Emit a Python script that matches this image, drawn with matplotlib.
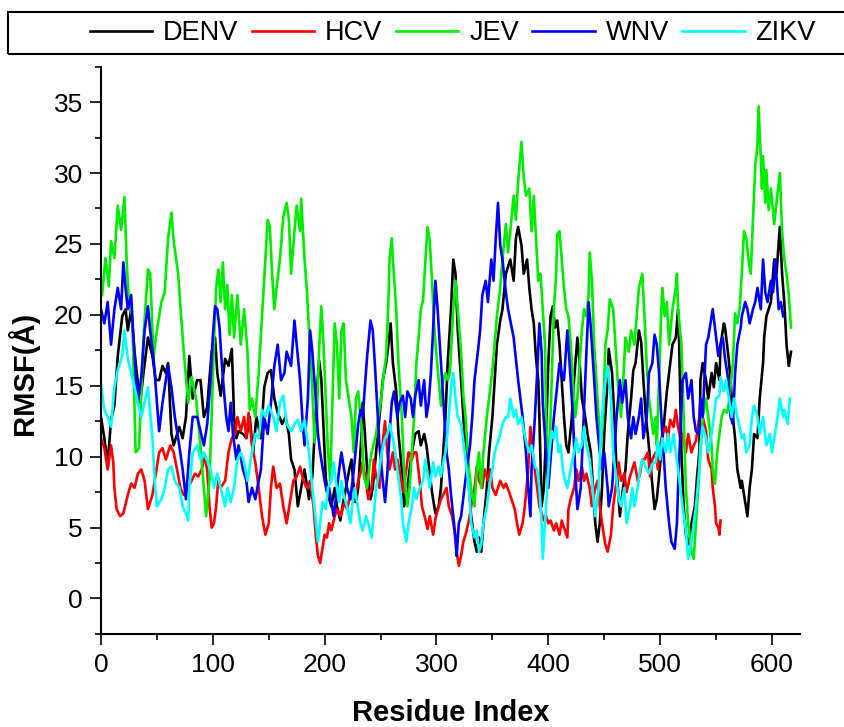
import matplotlib
matplotlib.use('Agg')
import matplotlib.pyplot as plt
from matplotlib.patches import Rectangle
from matplotlib.ticker import MultipleLocator

# %% data (residue index, RMSF in Angstrom)

denv_res = [0, 3, 6, 9, 12, 15, 19, 22, 24, 27, 30, 32, 35, 38, 42, 46, 49, 52, 55, 58, 60, 63, 65, 70, 73, 76, 79, 82, 86, 89,
            92, 95, 97, 99, 102, 104, 107, 111, 114, 117, 119, 121, 123, 127, 130, 133, 136, 139, 143, 146, 149, 152, 155, 158, 162, 165, 168, 170, 173, 176,
            179, 182, 186, 189, 191, 193, 195, 197, 199, 201, 203, 206, 209, 211, 214, 216, 219, 222, 224, 226, 228, 230, 233, 234, 236, 238, 241, 243, 246, 249,
            252, 255, 257, 259, 261, 264, 266, 269, 271, 274, 276, 278, 281, 284, 286, 289, 291, 293, 296, 299, 302, 304, 306, 308, 310, 313, 315, 317, 319, 322,
            324, 326, 329, 331, 334, 336, 338, 340, 342, 345, 347, 350, 352, 354, 357, 359, 362, 364, 366, 369, 371, 373, 376, 378, 381, 383, 385, 387, 389, 391,
            392, 394, 396, 398, 400, 402, 404, 406, 408, 410, 412, 414, 416, 418, 421, 423, 426, 428, 430, 433, 435, 438, 440, 442, 444, 446, 448, 450, 453, 454,
            457, 459, 461, 464, 466, 469, 471, 474, 476, 478, 481, 483, 485, 487, 489, 491, 493, 495, 497, 499, 501, 504, 506, 508, 511, 514, 516, 517, 518, 519,
            521, 523, 526, 528, 531, 533, 535, 536, 538, 541, 543, 546, 548, 550, 553, 554, 557, 558, 561, 563, 565, 567, 569, 572, 573, 576, 578, 580, 582, 584,
            587, 589, 592, 593, 595, 597, 599, 602, 604, 607, 609, 611, 613, 615, 617]
denv_rmsf = [12.8, 11.3, 9.5, 12.6, 13.6, 17.1, 19.9, 20.4, 18.9, 20.4, 17.4, 15.9, 13.8, 15.9, 18.4, 17.1, 15.4, 15.4, 16.4, 15.9, 16.6, 11.6, 10.8, 12.1, 11.3, 12.8, 17.1, 14.1, 15.4, 15.4,
             12.8, 13.5, 15.5, 17.4, 18.4, 15.9, 14.3, 16.9, 16.4, 17.6, 12.8, 11.3, 11.8, 11.6, 11.3, 12.8, 10.3, 12.8, 11.3, 14.9, 15.9, 16.1, 14.1, 13.1, 12.3, 12.8, 11.6, 9.8, 9.1, 6.5,
             7.8, 9.1, 7.0, 8.6, 11.5, 14.5, 16.8, 15.5, 12.0, 8.5, 7.3, 6.5, 7.8, 6.5, 5.5, 6.5, 7.8, 9.1, 9.8, 7.8, 6.8, 7.8, 11.6, 13.8, 11.6, 9.1, 7.0, 7.8, 10.3, 12.8,
             15.4, 16.6, 17.9, 19.4, 16.6, 14.6, 11.6, 9.1, 6.5, 7.8, 9.1, 10.3, 11.6, 11.8, 10.8, 11.6, 10.8, 9.5, 7.5, 6.0, 6.5, 7.8, 10.3, 12.8, 16.6, 20.4, 23.9, 22.9, 18.9, 15.4,
             12.8, 10.3, 7.8, 5.8, 4.0, 3.3, 4.3, 3.3, 5.3, 7.8, 10.3, 12.8, 15.4, 17.9, 19.6, 20.4, 22.9, 23.4, 23.9, 22.4, 25.4, 26.2, 24.9, 22.9, 23.9, 21.9, 20.4, 19.4, 16.9, 15.4,
             12.8, 6.5, 7.8, 11.6, 16.6, 19.9, 20.6, 19.1, 19.6, 17.9, 15.4, 12.8, 10.8, 10.3, 12.8, 15.4, 18.4, 16.6, 14.1, 12.8, 11.6, 10.3, 7.8, 5.3, 4.0, 5.3, 7.8, 11.6, 15.4, 17.6,
             15.9, 12.8, 9.1, 5.8, 7.3, 9.1, 11.6, 14.1, 16.1, 16.6, 18.9, 18.1, 15.4, 13.0, 11.5, 9.8, 8.0, 6.3, 7.0, 8.6, 10.3, 12.8, 14.6, 15.9, 17.9, 18.4, 20.4, 17.9, 14.1, 10.3,
             6.5, 4.5, 3.8, 5.3, 6.5, 8.6, 10.3, 15.4, 16.6, 15.4, 14.1, 15.9, 14.9, 16.6, 15.4, 17.9, 19.4, 19.1, 17.1, 15.4, 12.8, 11.3, 9.1, 7.8, 8.3, 6.8, 5.8, 7.8, 9.1, 11.6,
             11.3, 14.1, 16.6, 18.4, 19.9, 20.4, 20.9, 23.9, 22.9, 26.2, 22.9, 20.9, 17.9, 16.4, 17.4]

hcv_res = [0, 3, 6, 9, 11, 12, 14, 17, 20, 24, 27, 30, 33, 36, 39, 42, 46, 49, 52, 55, 58, 62, 65, 68, 71, 74, 78, 81, 84, 87,
           90, 93, 95, 97, 99, 101, 103, 105, 107, 111, 114, 117, 120, 122, 125, 128, 130, 132, 135, 138, 141, 144, 147, 150, 152, 154, 157, 160, 163, 166,
           169, 172, 175, 178, 181, 184, 187, 190, 192, 194, 196, 198, 200, 202, 204, 206, 209, 211, 214, 216, 218, 220, 223, 226, 228, 230, 233, 234, 237, 239,
           242, 244, 246, 249, 251, 254, 256, 258, 261, 263, 265, 268, 270, 273, 275, 278, 280, 282, 285, 287, 290, 292, 294, 297, 299, 302, 304, 306, 309, 311,
           314, 316, 318, 320, 322, 324, 326, 329, 331, 334, 336, 338, 341, 343, 346, 348, 350, 353, 355, 357, 360, 362, 365, 367, 370, 372, 374, 377, 379, 382,
           384, 386, 388, 390, 392, 394, 396, 398, 400, 402, 405, 407, 410, 412, 414, 417, 418, 420, 423, 425, 427, 430, 432, 434, 437, 439, 442, 444, 446, 449,
           451, 453, 456, 458, 461, 463, 465, 468, 470, 473, 475, 477, 480, 482, 484, 486, 489, 491, 493, 496, 498, 500, 502, 505, 507, 509, 512, 514, 516, 518,
           520, 523, 525, 528, 530, 532, 535, 536, 538, 541, 543, 546, 547, 549, 550, 552, 553, 554]
hcv_rmsf = [11.3, 10.6, 9.1, 10.8, 9.6, 7.8, 6.3, 5.8, 6.0, 7.3, 8.1, 7.8, 8.8, 9.1, 8.3, 6.3, 7.3, 8.8, 10.3, 10.6, 9.8, 10.8, 10.3, 9.1, 7.8, 7.3, 7.8, 8.3, 8.8, 8.6,
            9.1, 10.0, 9.0, 6.5, 5.0, 5.3, 6.5, 8.5, 7.8, 8.3, 10.3, 11.3, 11.6, 12.8, 11.8, 12.8, 11.3, 13.1, 10.8, 9.6, 7.8, 5.8, 4.5, 5.3, 7.8, 9.3, 7.8, 8.1, 6.5, 5.3,
            6.8, 8.3, 8.6, 9.3, 8.3, 7.8, 8.3, 6.5, 4.5, 3.0, 2.5, 3.5, 4.5, 4.3, 5.3, 4.8, 5.8, 6.3, 5.8, 6.3, 6.8, 6.3, 7.3, 6.8, 7.5, 8.3, 9.1, 9.6, 8.3, 7.0,
            7.8, 9.8, 8.6, 7.8, 10.3, 12.5, 10.3, 9.1, 10.3, 9.1, 9.8, 8.6, 7.5, 9.1, 10.3, 9.8, 10.3, 10.3, 8.3, 6.5, 5.6, 4.9, 5.8, 4.5, 5.6, 6.5, 7.0, 7.3, 7.8, 6.5,
            5.8, 4.8, 3.3, 2.3, 3.0, 4.0, 4.5, 5.5, 6.5, 7.8, 9.3, 8.3, 7.8, 9.1, 8.3, 9.1, 7.8, 7.3, 7.8, 8.3, 7.8, 8.1, 7.5, 7.0, 6.3, 5.3, 4.5, 5.3, 6.5, 9.1,
            12.1, 10.3, 9.0, 7.8, 6.5, 6.0, 5.5, 5.8, 5.3, 5.5, 4.8, 5.3, 4.5, 5.5, 5.0, 4.3, 6.3, 7.0, 7.8, 9.1, 8.3, 9.3, 8.3, 8.8, 7.8, 6.5, 7.8, 8.3, 6.5, 4.8,
            3.8, 3.3, 4.5, 6.5, 8.3, 9.6, 8.3, 8.8, 7.5, 8.6, 9.1, 9.6, 8.3, 8.8, 9.8, 9.8, 10.3, 8.6, 9.8, 10.3, 9.1, 10.8, 11.6, 12.1, 11.3, 12.6, 12.1, 13.3, 12.1, 11.3,
            11.6, 10.3, 11.6, 10.3, 10.8, 11.1, 12.8, 13.8, 12.8, 11.8, 9.8, 9.1, 7.8, 6.5, 5.3, 5.0, 4.5, 5.5]

jev_res = [1, 4, 7, 9, 12, 15, 18, 21, 23, 25, 28, 31, 34, 38, 42, 44, 47, 50, 54, 57, 60, 63, 65, 69, 71, 74, 78, 81, 85, 88,
           92, 94, 97, 99, 101, 103, 105, 107, 109, 111, 113, 115, 117, 119, 122, 125, 128, 131, 133, 135, 138, 141, 144, 147, 149, 151, 153, 155, 157, 160,
           163, 166, 168, 170, 173, 175, 178, 179, 182, 184, 186, 189, 191, 193, 195, 197, 199, 201, 203, 205, 207, 209, 211, 213, 215, 217, 219, 222, 224, 226,
           228, 230, 233, 235, 238, 240, 242, 246, 248, 250, 253, 255, 257, 258, 260, 261, 264, 266, 269, 271, 274, 276, 278, 280, 282, 284, 286, 288, 290, 292,
           294, 296, 298, 300, 302, 304, 306, 308, 310, 312, 315, 317, 319, 322, 324, 326, 329, 331, 334, 336, 338, 340, 342, 345, 347, 350, 352, 354, 357, 359,
           362, 364, 366, 369, 371, 373, 376, 378, 380, 383, 385, 387, 389, 391, 393, 395, 397, 398, 400, 401, 403, 405, 407, 408, 410, 412, 414, 416, 418, 420,
           422, 424, 426, 428, 430, 432, 434, 436, 437, 439, 441, 443, 445, 447, 449, 451, 453, 455, 458, 460, 462, 465, 467, 469, 472, 474, 477, 479, 481, 484,
           486, 488, 490, 492, 494, 496, 497, 499, 501, 502, 504, 506, 508, 511, 514, 515, 516, 519, 521, 523, 525, 528, 530, 532, 534, 536, 538, 541, 543, 546,
           547, 549, 551, 553, 555, 557, 560, 562, 565, 567, 569, 571, 573, 575, 577, 579, 581, 583, 585, 587, 588, 590, 591, 592, 594, 595, 597, 599, 602, 604,
           607, 609, 611, 613, 615, 617]
jev_rmsf = [21.4, 24.0, 22.0, 25.2, 24.0, 27.7, 26.0, 28.3, 23.7, 20.9, 19.9, 10.3, 10.6, 18.4, 23.2, 22.9, 17.0, 18.9, 20.9, 21.6, 25.4, 27.2, 25.2, 22.9, 20.6, 17.4, 13.8, 15.6, 14.1, 11.6,
            7.8, 5.8, 8.3, 13.0, 18.0, 21.9, 23.2, 20.9, 23.7, 20.4, 22.1, 18.6, 21.4, 18.4, 21.4, 17.9, 20.4, 17.4, 13.3, 14.1, 12.8, 15.9, 19.9, 23.9, 26.7, 26.2, 22.9, 20.4, 21.9, 23.9,
            26.9, 27.9, 26.7, 22.9, 25.9, 27.7, 25.9, 28.2, 23.9, 21.9, 18.9, 14.6, 11.0, 12.5, 17.5, 20.6, 17.9, 14.1, 10.3, 8.3, 14.1, 19.4, 17.9, 14.1, 18.9, 19.4, 15.4, 13.8, 12.8, 10.3,
            14.1, 14.6, 12.1, 8.6, 7.8, 9.3, 10.3, 11.6, 12.8, 13.8, 15.9, 17.1, 20.9, 23.9, 25.4, 23.9, 20.4, 16.6, 12.8, 9.1, 6.5, 7.8, 10.3, 12.8, 16.6, 18.4, 20.4, 21.0, 23.7, 26.2,
            25.2, 22.4, 19.1, 17.1, 15.4, 13.6, 15.4, 15.9, 15.4, 15.9, 20.4, 22.4, 20.4, 17.4, 14.3, 12.8, 9.1, 7.8, 6.5, 9.1, 10.3, 7.8, 10.3, 12.8, 14.1, 16.1, 17.9, 19.9, 21.9, 23.9,
            26.4, 24.4, 25.9, 28.4, 26.7, 29.4, 32.2, 29.7, 28.4, 28.9, 25.9, 28.4, 25.4, 22.4, 22.9, 20.4, 17.9, 12.8, 9.1, 10.3, 15.4, 20.4, 22.9, 25.7, 25.9, 23.9, 21.9, 20.4, 19.9, 17.9,
            15.4, 12.8, 14.1, 16.6, 18.9, 20.4, 19.9, 21.4, 24.4, 22.4, 17.9, 15.4, 12.8, 10.8, 12.8, 17.9, 18.9, 21.1, 20.4, 17.9, 15.4, 12.8, 15.4, 18.4, 17.4, 18.9, 17.9, 19.9, 21.9, 22.9,
            19.9, 16.4, 14.1, 12.8, 11.6, 12.8, 10.8, 15.4, 20.4, 21.9, 19.9, 20.9, 17.9, 20.4, 21.9, 22.9, 20.4, 17.9, 12.8, 7.8, 5.3, 3.3, 2.8, 5.3, 7.8, 10.3, 12.8, 14.1, 12.8, 10.8,
            9.1, 8.1, 10.3, 11.6, 12.8, 13.3, 13.1, 14.1, 16.6, 20.1, 19.4, 20.4, 22.9, 25.9, 25.4, 23.9, 22.9, 26.7, 30.5, 32.0, 34.7, 31.0, 28.9, 31.2, 27.9, 30.2, 27.4, 28.9, 26.4, 27.9,
            30.0, 25.9, 23.9, 22.9, 21.4, 19.1]

wnv_res = [0, 3, 6, 9, 12, 15, 18, 20, 22, 24, 27, 29, 31, 33, 36, 39, 42, 44, 47, 50, 52, 55, 58, 60, 63, 66, 70, 73, 76, 79,
           82, 86, 89, 92, 95, 98, 100, 102, 104, 106, 108, 110, 112, 114, 116, 118, 121, 123, 127, 130, 132, 135, 138, 141, 143, 146, 149, 152, 155, 158,
           161, 164, 166, 170, 173, 175, 178, 180, 182, 185, 187, 189, 192, 194, 196, 198, 200, 202, 204, 206, 208, 210, 213, 215, 217, 220, 223, 225, 227, 230,
           232, 234, 237, 238, 241, 243, 245, 247, 249, 252, 254, 256, 258, 260, 262, 265, 267, 270, 272, 274, 277, 279, 281, 284, 286, 289, 291, 293, 295, 297,
           299, 301, 303, 305, 307, 309, 311, 313, 315, 317, 318, 320, 322, 325, 327, 330, 332, 334, 337, 339, 341, 344, 346, 349, 351, 353, 355, 357, 359, 362,
           364, 366, 369, 371, 373, 375, 377, 380, 382, 384, 385, 388, 390, 392, 394, 395, 398, 400, 402, 405, 407, 410, 412, 414, 417, 419, 422, 424, 426, 429,
           431, 433, 436, 438, 441, 443, 446, 448, 450, 453, 454, 457, 459, 461, 464, 466, 469, 471, 474, 476, 478, 481, 483, 485, 488, 490, 493, 495, 497, 499,
           501, 503, 505, 508, 510, 513, 515, 516, 518, 520, 523, 525, 528, 530, 532, 535, 536, 538, 541, 543, 546, 547, 550, 552, 554, 556, 558, 561, 563, 565,
           567, 569, 572, 573, 576, 578, 580, 583, 585, 587, 590, 592, 594, 596, 599, 601, 603, 606, 608, 610]
wnv_rmsf = [20.4, 19.4, 20.9, 17.9, 20.4, 21.9, 20.4, 23.7, 21.9, 20.4, 21.4, 18.4, 15.9, 13.8, 15.6, 18.9, 20.6, 18.9, 16.9, 13.8, 11.8, 13.8, 15.4, 16.4, 14.9, 12.8, 10.8, 9.1, 7.0, 10.3,
            12.8, 12.8, 11.8, 10.8, 12.3, 15.4, 18.5, 20.6, 20.4, 19.1, 16.6, 14.6, 12.8, 11.8, 13.8, 11.6, 9.8, 10.8, 9.1, 8.3, 6.8, 7.8, 7.0, 8.3, 9.1, 12.8, 11.6, 13.8, 16.4, 17.9,
            15.4, 15.9, 17.4, 16.4, 19.6, 17.9, 15.4, 12.8, 10.8, 14.1, 18.9, 17.4, 14.1, 11.6, 10.3, 9.3, 8.3, 7.5, 7.8, 6.8, 5.8, 7.0, 9.1, 10.3, 9.3, 7.8, 7.0, 8.3, 9.8, 12.3,
            13.3, 12.8, 16.1, 17.1, 19.6, 18.9, 16.4, 13.6, 10.8, 8.3, 6.8, 8.8, 11.6, 13.8, 14.6, 12.8, 13.8, 14.3, 12.8, 14.6, 14.1, 12.8, 14.3, 15.4, 13.6, 15.4, 12.8, 13.8, 15.9, 19.0,
            22.4, 20.4, 17.9, 15.4, 12.8, 10.3, 9.1, 7.3, 5.8, 4.3, 3.0, 5.3, 5.8, 7.8, 9.1, 10.8, 12.8, 15.4, 17.4, 18.9, 21.4, 22.4, 20.9, 23.9, 22.4, 25.4, 27.9, 24.9, 23.9, 21.6,
            20.4, 19.6, 18.4, 16.9, 15.4, 14.1, 12.8, 10.3, 7.8, 5.8, 9.1, 12.8, 15.9, 19.4, 17.4, 13.8, 10.3, 7.8, 9.8, 12.8, 14.3, 16.6, 15.9, 15.4, 18.9, 16.6, 12.8, 9.1, 6.3, 7.8,
            11.6, 15.4, 20.9, 19.1, 15.4, 12.8, 10.3, 9.1, 10.3, 7.8, 6.5, 7.8, 10.3, 12.8, 15.4, 13.8, 15.4, 12.8, 11.3, 12.8, 11.6, 12.8, 14.1, 11.3, 12.8, 15.9, 16.6, 18.6, 17.9, 15.9,
            12.8, 10.3, 7.8, 5.3, 4.0, 3.5, 5.3, 7.8, 11.6, 15.4, 15.9, 14.1, 15.4, 12.8, 11.8, 11.6, 14.1, 12.8, 17.9, 18.4, 19.9, 20.4, 18.4, 17.1, 17.9, 18.4, 16.9, 15.4, 12.8, 12.3,
            15.9, 17.9, 19.1, 19.9, 20.9, 20.4, 19.4, 20.4, 20.9, 21.9, 20.4, 23.9, 21.6, 20.9, 22.4, 21.6, 23.9, 20.4, 20.9, 19.9]

zikv_res = [0, 3, 6, 9, 12, 15, 19, 21, 24, 27, 30, 33, 36, 39, 42, 46, 48, 50, 54, 57, 60, 63, 66, 70, 73, 76, 78, 79, 82, 86,
            89, 92, 95, 98, 101, 104, 107, 111, 113, 116, 119, 122, 125, 128, 131, 135, 138, 141, 144, 147, 150, 154, 157, 160, 163, 166, 170, 173, 176, 179,
            182, 186, 189, 192, 194, 196, 198, 201, 203, 206, 208, 210, 213, 215, 217, 220, 223, 225, 227, 230, 232, 234, 237, 239, 242, 244, 246, 249, 251, 254,
            256, 258, 261, 263, 265, 268, 270, 273, 275, 278, 280, 282, 285, 288, 290, 292, 294, 297, 299, 302, 304, 306, 308, 310, 313, 315, 317, 319, 322, 324,
            326, 329, 331, 334, 336, 338, 340, 342, 345, 347, 350, 352, 354, 357, 359, 362, 364, 366, 369, 371, 373, 376, 378, 381, 383, 385, 388, 390, 392, 394,
            395, 397, 399, 401, 403, 405, 407, 409, 411, 413, 415, 417, 420, 423, 425, 427, 430, 432, 434, 437, 439, 441, 442, 445, 447, 449, 452, 453, 456, 458,
            461, 463, 465, 468, 470, 473, 475, 477, 480, 482, 484, 487, 490, 493, 496, 498, 500, 502, 505, 507, 509, 512, 514, 516, 518, 520, 523, 525, 528, 530,
            532, 535, 536, 538, 541, 543, 546, 548, 550, 553, 554, 557, 559, 562, 564, 566, 569, 571, 573, 575, 577, 580, 582, 584, 587, 589, 592, 593, 595, 598,
            600, 602, 605, 607, 610, 611, 614, 616]
zikv_rmsf = [15.1, 13.3, 12.8, 12.1, 14.9, 16.1, 17.1, 18.9, 16.9, 15.9, 14.9, 13.8, 12.8, 13.8, 14.9, 11.3, 8.3, 6.5, 7.0, 7.8, 9.1, 9.3, 8.3, 7.8, 6.5, 6.0, 5.5, 7.8, 10.3, 10.8,
             9.8, 10.3, 9.7, 9.1, 7.8, 8.8, 7.8, 6.5, 7.8, 6.8, 7.8, 9.8, 10.3, 9.6, 8.3, 10.3, 11.6, 11.3, 13.3, 12.8, 13.6, 12.8, 11.8, 13.8, 14.3, 12.3, 11.8, 12.3, 12.6, 11.8,
             12.6, 10.3, 7.8, 5.5, 4.0, 5.3, 6.8, 6.3, 7.8, 8.3, 9.6, 8.3, 6.8, 8.3, 7.3, 6.5, 5.3, 6.8, 7.8, 6.3, 5.3, 4.8, 5.8, 5.3, 4.3, 6.0, 7.8, 9.1, 10.3, 11.3,
             11.6, 12.3, 11.3, 10.3, 9.1, 7.3, 5.3, 4.0, 5.3, 6.5, 7.8, 7.0, 7.8, 8.3, 9.8, 8.8, 7.8, 9.6, 8.6, 9.3, 8.6, 9.6, 10.3, 11.8, 14.9, 15.9, 14.1, 12.8, 12.3, 11.1,
             9.8, 7.8, 5.3, 4.3, 4.8, 3.3, 3.8, 5.3, 6.5, 7.8, 9.1, 10.3, 10.8, 11.6, 12.3, 12.8, 12.8, 14.1, 12.8, 13.3, 12.3, 12.8, 11.8, 10.8, 10.3, 10.8, 9.3, 9.1, 7.8, 5.3,
             2.8, 5.3, 7.8, 10.3, 11.8, 11.3, 12.1, 10.3, 10.8, 9.1, 8.3, 7.8, 9.1, 10.3, 11.3, 10.3, 10.8, 12.1, 10.8, 9.8, 8.3, 6.5, 5.8, 7.8, 11.6, 13.8, 15.9, 16.4, 14.1, 10.3,
             8.3, 7.0, 6.5, 7.8, 5.3, 6.5, 7.8, 6.5, 7.8, 9.1, 9.8, 9.3, 8.8, 9.5, 9.6, 11.1, 9.8, 11.3, 10.3, 11.6, 10.3, 11.6, 10.3, 9.1, 7.8, 6.5, 4.8, 2.8, 4.0, 5.3,
             6.5, 9.1, 10.8, 12.1, 11.3, 10.3, 11.6, 12.8, 14.1, 14.3, 15.6, 14.6, 15.4, 13.8, 12.8, 14.1, 12.8, 12.1, 11.3, 11.6, 10.3, 10.8, 12.8, 13.6, 12.8, 11.6, 12.8, 12.1, 10.8, 11.6,
             10.3, 11.3, 12.8, 14.1, 12.8, 13.3, 12.3, 14.1]

names = ['DENV', 'HCV', 'JEV', 'WNV', 'ZIKV']
colors = ['#000000', '#ff0000', '#00ee00', '#0000ff', '#00ffff']

# %% fonts

plt.rcParams['font.family'] = ['Liberation Sans', 'DejaVu Sans']
narrow = ['Liberation Sans Narrow', 'Liberation Sans', 'DejaVu Sans']

# %% figure

fig = plt.figure(figsize=(8.45, 7.27), dpi=100)
ax = fig.add_axes([0.1195, 0.128, 0.8272, 0.7803])

data = [(denv_res, denv_rmsf), (hcv_res, hcv_rmsf), (jev_res, jev_rmsf),
        (wnv_res, wnv_rmsf), (zikv_res, zikv_rmsf)]
handles = []
for (res, val), name, col in zip(data, names, colors):
    h, = ax.plot(res, val, color=col, lw=1.9, label=name)
    handles.append(h)

ax.set_xlim(0, 625)
ax.set_ylim(-2.5, 37.5)
ax.xaxis.set_major_locator(MultipleLocator(100))
ax.xaxis.set_minor_locator(MultipleLocator(50))
ax.yaxis.set_major_locator(MultipleLocator(5))
ax.yaxis.set_minor_locator(MultipleLocator(2.5))

ax.spines['top'].set_visible(False)
ax.spines['right'].set_visible(False)
ax.spines['left'].set_linewidth(1.5)
ax.spines['bottom'].set_linewidth(1.5)

ax.tick_params(which='major', direction='out', length=8, width=1.2, pad=5)
ax.tick_params(which='minor', direction='out', length=4, width=1.2)
ax.tick_params(axis='y', labelsize=19)
ax.tick_params(axis='x', labelsize=19, pad=6)
for lab in ax.get_xticklabels():
    lab.set_family(narrow)

# axis labels
fig.text(450.5 / 845, 1 - 713 / 727, 'Residue Index', ha='center', va='center',
         fontsize=21, fontweight='bold', family=narrow)
fig.text(23 / 845, 1 - 373 / 727, 'RMSF(Å)', ha='center', va='center', rotation=90,
         fontsize=21, fontweight='bold')

# legend strip on top
fig.add_artist(Rectangle((8 / 845, 1 - 54 / 727), 1.0, 42 / 727, transform=fig.transFigure,
                         fill=False, lw=1.5, ec='black', clip_on=False))
fig.legend(handles, names, loc='center', bbox_to_anchor=(453 / 845, 1 - 33 / 727), ncol=5,
           frameon=False, handlelength=2.3, handletextpad=0.4, columnspacing=0.5,
           prop={'family': narrow, 'size': 19.5})

fig.savefig('out.png', dpi=100)
